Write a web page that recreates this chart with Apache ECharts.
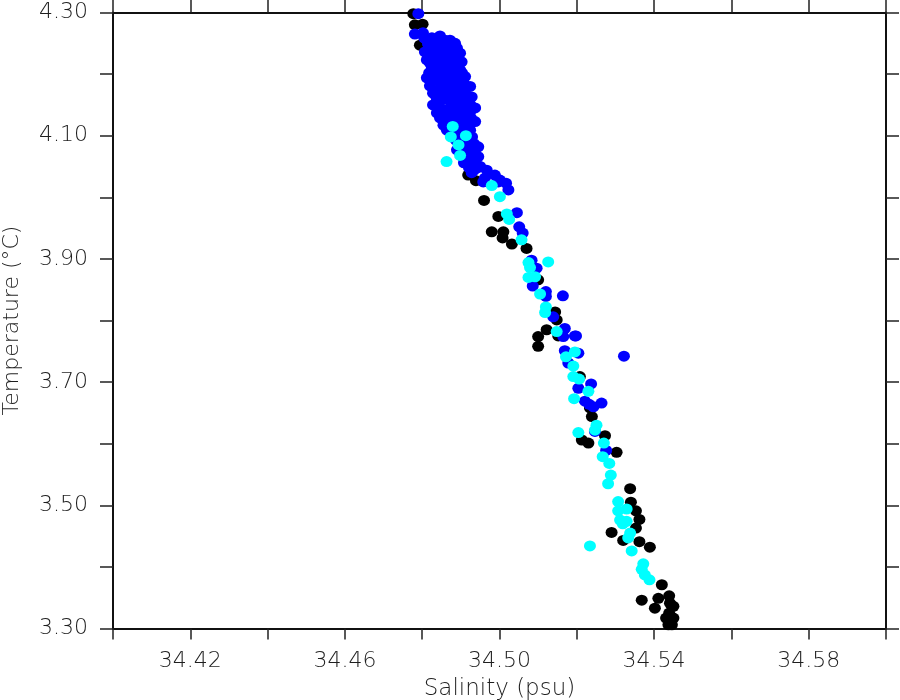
<!DOCTYPE html>
<html>
<head>
<meta charset="utf-8">
<script src="https://cdn.jsdelivr.net/npm/echarts@6/dist/echarts.min.js"></script>
<style>html,body{margin:0;padding:0;background:#fff}#c{width:900px;height:700px}</style>
</head>
<body>
<div id="c"></div>
<script>
// Axis ranges and labelled ticks
const xMin = 34.40, xMax = 34.60, xStep = 0.02;
const yMin = 3.30, yMax = 4.30, yStep = 0.10;
const xLabelValues = [34.42, 34.46, 34.50, 34.54, 34.58];
const yLabelValues = [3.30, 3.50, 3.70, 3.90, 4.10, 4.30];
const xTitle = 'Salinity (psu)';
const yTitle = 'Temperature (°C)';

// [salinity, temperature]
const blackPts = [
  [34.4777,4.298],[34.4781,4.280],[34.4801,4.281],[34.4794,4.247],
  [34.4919,4.036],[34.4939,4.027],[34.4960,3.995],[34.4997,3.969],
  [34.4980,3.944],[34.5010,3.944],[34.5008,3.934],[34.5032,3.924],
  [34.5070,3.917],[34.5100,3.866],[34.5148,3.801],[34.5144,3.814],
  [34.5122,3.785],[34.5100,3.774],[34.5100,3.758],[34.5152,3.775],
  [34.5208,3.709],[34.5234,3.658],[34.5239,3.644],[34.5213,3.606],
  [34.5230,3.601],[34.5273,3.613],[34.5303,3.586],[34.5338,3.527],
  [34.5340,3.505],[34.5353,3.491],[34.5362,3.477],[34.5353,3.463],
  [34.5290,3.456],[34.5320,3.443],[34.5362,3.441],[34.5389,3.432],
  [34.5420,3.371],[34.5368,3.346],[34.5411,3.349],[34.5439,3.353],
  [34.5441,3.341],[34.5402,3.333],[34.5450,3.336],[34.5439,3.325],
  [34.5450,3.317],[34.5431,3.317],[34.5437,3.306],[34.5446,3.306]
];
const bluePts = [
  [34.4790,4.298],[34.4781,4.265],[34.4802,4.267],[34.4812,4.255],
  [34.4846,4.262],[34.4872,4.255],[34.4885,4.250],[34.4898,4.234],
  [34.4902,4.220],[34.4828,4.234],[34.4820,4.218],[34.4812,4.194],
  [34.4911,4.196],[34.4924,4.180],[34.4928,4.163],[34.4937,4.145],
  [34.4828,4.150],[34.4838,4.137],[34.4906,4.134],[34.4937,4.123],
  [34.4855,4.117],[34.4911,4.104],[34.4945,4.082],[34.4945,4.066],
  [34.4950,4.050],[34.4967,4.044],[34.4988,4.036],[34.5001,4.028],
  [34.5017,4.023],[34.4958,4.025],
  [34.4820,4.247],[34.4846,4.242],[34.4867,4.239],[34.4838,4.226],
  [34.4864,4.223],[34.4885,4.226],[34.4825,4.210],[34.4851,4.207],
  [34.4877,4.210],[34.4898,4.207],[34.4836,4.190],[34.4862,4.187],
  [34.4887,4.190],[34.4908,4.184],[34.4841,4.174],[34.4867,4.171],
  [34.4893,4.174],[34.4913,4.166],[34.4851,4.158],[34.4877,4.155],
  [34.4903,4.158],[34.4924,4.151],[34.4859,4.142],[34.4885,4.139],
  [34.4911,4.142],[34.4867,4.126],[34.4893,4.122],[34.4918,4.126],
  [34.4877,4.109],[34.4898,4.106],[34.4924,4.109],[34.4887,4.093],
  [34.4913,4.090],[34.4903,4.077],[34.4924,4.074],[34.4918,4.057],
  [34.4934,4.044],[34.4939,4.061],[34.4856,4.200],[34.4877,4.177],
  [34.4893,4.148],[34.4872,4.164],[34.4908,4.129],[34.4846,4.129],
  [34.4836,4.164],[34.4815,4.231],[34.4859,4.255],[34.4890,4.242],
  [34.4833,4.242],
  [34.4805,4.259],[34.4825,4.259],
  [34.4815,4.249],[34.4836,4.249],[34.4856,4.249],[34.4872,4.249],
  [34.4807,4.236],[34.4846,4.236],[34.4862,4.236],[34.4882,4.236],
  [34.4812,4.223],[34.4828,4.223],[34.4849,4.223],[34.4877,4.223],[34.4890,4.223],
  [34.4838,4.213],[34.4864,4.213],[34.4887,4.213],
  [34.4818,4.202],[34.4838,4.202],[34.4872,4.202],[34.4893,4.202],[34.4903,4.202],
  [34.4823,4.192],[34.4849,4.192],[34.4875,4.192],[34.4898,4.192],
  [34.4820,4.181],[34.4854,4.181],[34.4903,4.181],[34.4911,4.181],
  [34.4828,4.169],[34.4849,4.169],[34.4887,4.169],[34.4903,4.169],
  [34.4838,4.160],[34.4864,4.160],[34.4890,4.160],[34.4918,4.160],
  [34.4841,4.148],[34.4875,4.148],[34.4906,4.148],[34.4924,4.148],
  [34.4851,4.139],[34.4872,4.139],[34.4898,4.139],[34.4924,4.139],
  [34.4859,4.129],[34.4877,4.129],[34.4895,4.129],[34.4926,4.129],
  [34.4872,4.119],[34.4906,4.119],[34.4924,4.119],
  [34.4864,4.109],[34.4890,4.109],[34.4911,4.109],
  [34.4885,4.098],[34.4898,4.098],[34.4929,4.098],
  [34.4900,4.087],[34.4924,4.087],[34.4934,4.087],
  [34.4890,4.077],[34.4916,4.077],[34.4934,4.077],
  [34.4906,4.065],[34.4929,4.065],
  [34.4908,4.056],[34.4934,4.056],
  [34.4921,4.048],[34.4944,4.048],
  [34.4928,4.040],[34.4962,4.031],[34.4997,4.025],[34.5023,4.012],
  [34.5045,3.975],[34.5051,3.952],[34.5060,3.942],[34.5083,3.898],
  [34.5096,3.885],[34.5086,3.856],[34.5120,3.847],[34.5120,3.839],
  [34.5164,3.840],[34.5139,3.806],[34.5169,3.787],[34.5195,3.775],
  [34.5165,3.774],[34.5198,3.775],[34.5169,3.751],[34.5204,3.747],
  [34.5178,3.731],[34.5237,3.697],[34.5204,3.690],[34.5221,3.669],
  [34.5243,3.660],[34.5264,3.666],[34.5232,3.664],[34.5247,3.620],
  [34.5276,3.589],[34.5322,3.742]
];
const cyanPts = [
  [34.4879,4.115],[34.4874,4.098],[34.4913,4.100],[34.4894,4.085],
  [34.4898,4.068],[34.4863,4.058],[34.4980,4.019],[34.5001,4.001],
  [34.5019,3.973],[34.5025,3.964],[34.5057,3.931],[34.5075,3.894],
  [34.5079,3.886],[34.5126,3.895],[34.5075,3.870],[34.5092,3.871],
  [34.5105,3.843],[34.5120,3.822],[34.5118,3.813],[34.5148,3.782],
  [34.5195,3.749],[34.5172,3.741],[34.5191,3.726],[34.5191,3.709],
  [34.5206,3.705],[34.5230,3.685],[34.5193,3.673],[34.5251,3.630],
  [34.5247,3.622],[34.5204,3.618],[34.5270,3.601],[34.5267,3.579],
  [34.5284,3.568],[34.5288,3.549],[34.5281,3.535],[34.5307,3.506],
  [34.5307,3.491],[34.5329,3.494],[34.5312,3.476],[34.5329,3.474],
  [34.5319,3.470],[34.5338,3.455],[34.5333,3.447],[34.5234,3.434],
  [34.5342,3.426],[34.5372,3.405],[34.5368,3.396],[34.5376,3.387],
  [34.5388,3.379]
];

const FONT = "'DejaVu Sans'";
const TXT = '#1e1e1e';
const WEIGHT = 200;
function inList(v, list, tol) { return list.some(function (a) { return Math.abs(a - v) < tol; }); }

const lineStyle = { color: '#111', width: 2 };
function tick(len) { return { show: true, inside: false, length: len, lineStyle: { color: '#222', width: 1.5 } }; }

function xAx(pos, labels) {
  return {
    type: 'value', position: pos, min: xMin, max: xMax, interval: xStep,
    axisLine: { show: true, onZero: false, lineStyle: lineStyle },
    axisTick: tick(labels ? 11 : 13), splitLine: { show: false },
    axisLabel: labels ? {
      show: true, margin: 22, fontFamily: FONT, fontSize: 22, fontWeight: WEIGHT, color: TXT,
      showMinLabel: true, showMaxLabel: true, hideOverlap: false,
      formatter: function (v) { return inList(v, xLabelValues, 1e-4) ? v.toFixed(2) : ''; }
    } : { show: false },
    name: labels ? xTitle : '', nameLocation: 'middle', nameGap: 46,
    nameTextStyle: { fontFamily: FONT, fontSize: 23, fontWeight: WEIGHT, color: TXT }
  };
}
function yAx(pos, labels) {
  return {
    type: 'value', position: pos, min: yMin, max: yMax, interval: yStep,
    axisLine: { show: true, onZero: false, lineStyle: lineStyle },
    axisTick: tick(13), splitLine: { show: false },
    axisLabel: labels ? {
      show: true, margin: 25, fontFamily: FONT, fontSize: 22, fontWeight: WEIGHT, color: TXT,
      showMinLabel: true, showMaxLabel: true, hideOverlap: false,
      formatter: function (v) { return inList(v, yLabelValues, 1e-4) ? v.toFixed(2) : ''; }
    } : { show: false },
    name: labels ? yTitle : '', nameLocation: 'middle', nameGap: 90, nameRotate: 90,
    nameTextStyle: { fontFamily: FONT, fontSize: 22, fontWeight: WEIGHT, color: TXT }
  };
}
function sc(data, color) {
  return {
    type: 'scatter', data: data, xAxisIndex: 0, yAxisIndex: 0,
    symbol: 'circle', symbolSize: [12, 11],
    itemStyle: { color: color, opacity: 1 }, silent: true, clip: false
  };
}

const chart = echarts.init(document.getElementById('c'), null, { renderer: 'canvas' });
chart.setOption({
  animation: false,
  backgroundColor: '#fff',
  grid: { left: 113, right: 14, top: 12.5, bottom: 71.5, containLabel: false, outerBoundsMode: 'none' },
  xAxis: [xAx('bottom', true), xAx('top', false)],
  yAxis: [yAx('left', true), yAx('right', false)],
  series: [sc(blackPts, '#000000'), sc(bluePts, '#0000ff'), sc(cyanPts, '#00ffff')]
});
</script>
</body>
</html>
